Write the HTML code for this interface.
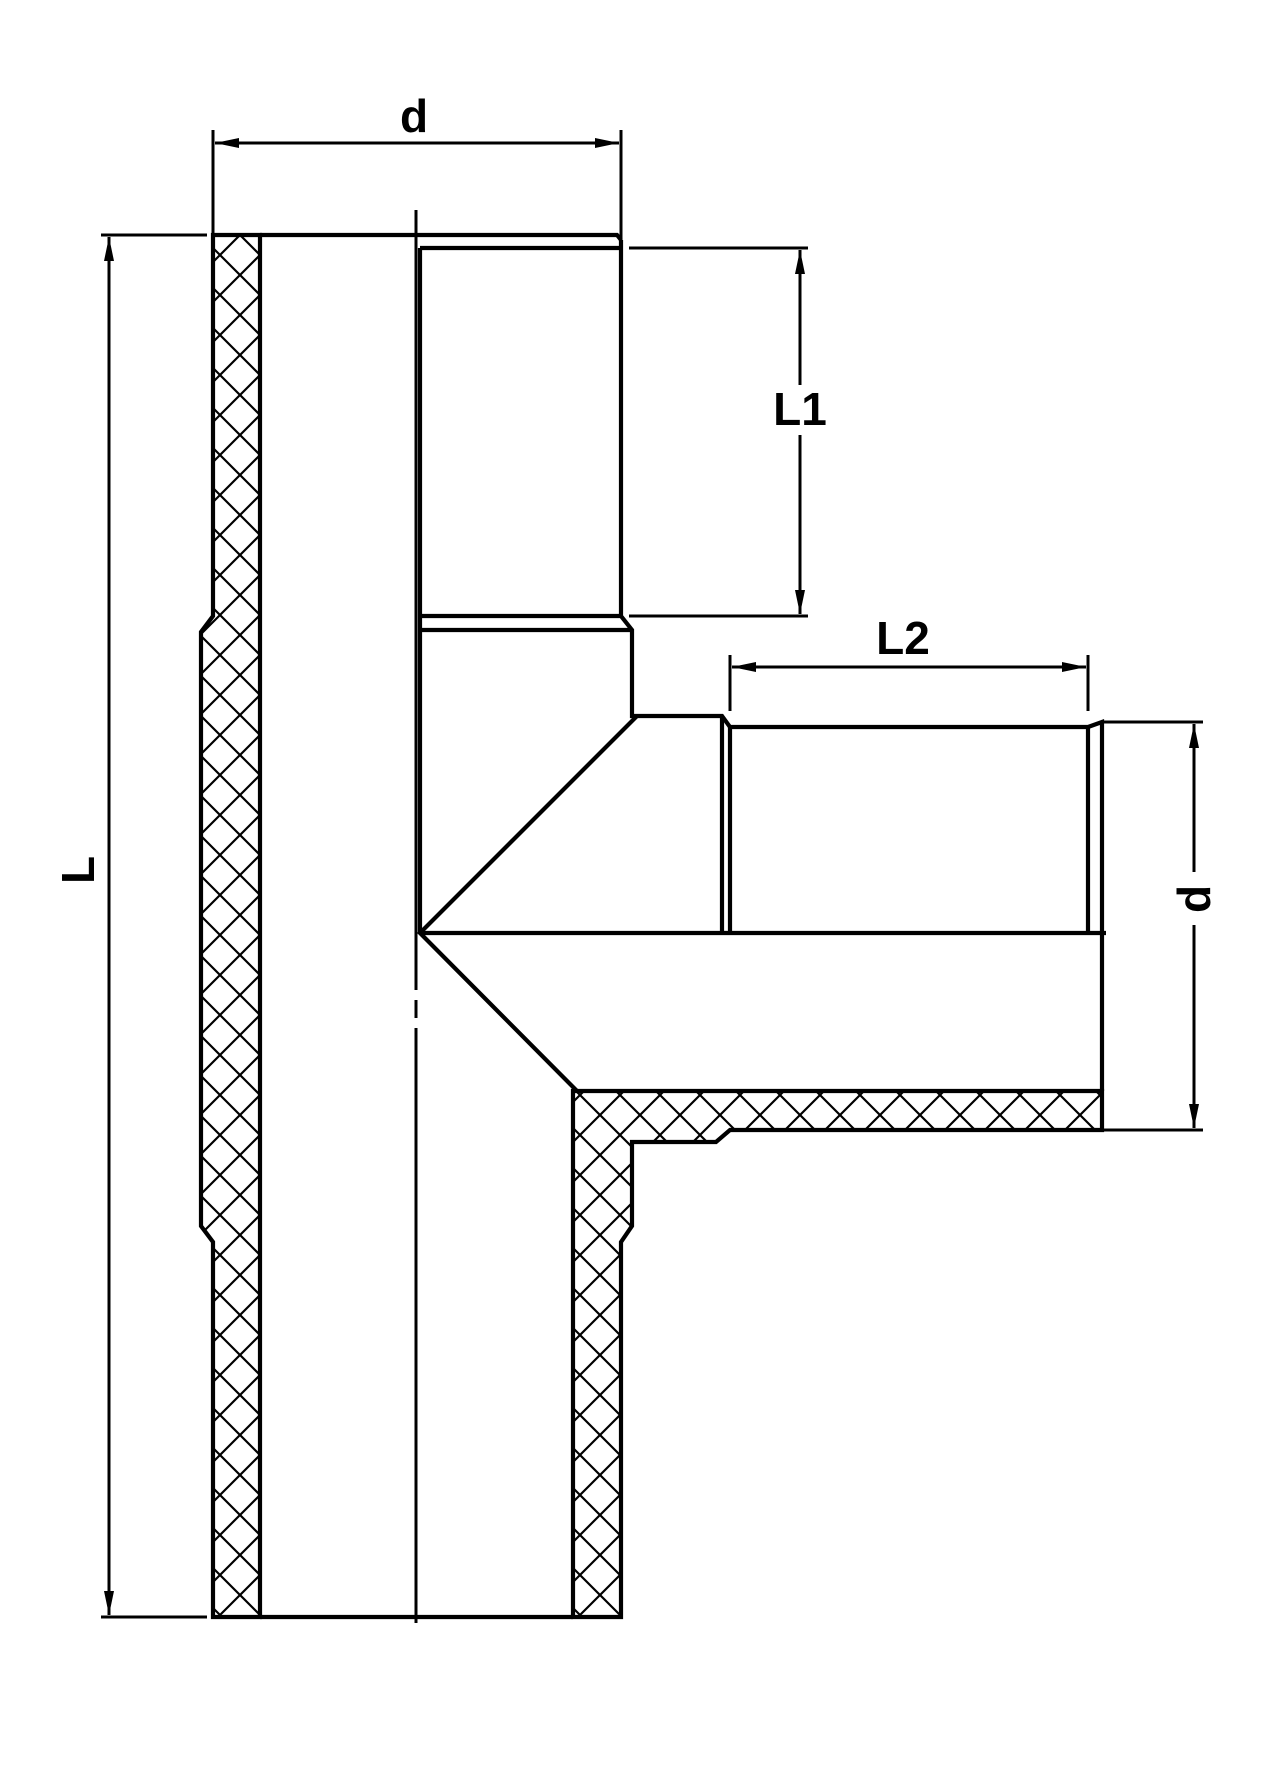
<!DOCTYPE html>
<html><head><style>html,body{margin:0;padding:0;background:#fff}svg{display:block}</style></head><body>
<svg width="1276" height="1767" viewBox="0 0 1276 1767" xmlns="http://www.w3.org/2000/svg">
<defs>
<pattern id="h" patternUnits="userSpaceOnUse" width="40" height="40" x="0" y="235">
<path d="M0 0L40 40M40 0L0 40M-5 35L5 45M35 -5L45 5M-5 5L5 -5M35 45L45 35" stroke="#000" stroke-width="2.2"/>
</pattern>
<marker id="a" viewBox="0 0 24 12" refX="24" refY="6" markerWidth="24" markerHeight="12" markerUnits="userSpaceOnUse" orient="auto-start-reverse"><path d="M0 1L24 6L0 11Z" fill="#000"/></marker>
</defs>
<g fill="none" stroke="#000" stroke-width="4.2" stroke-linejoin="miter">
<path d="M213 235L213 616L201 632L201 1226L213 1242L213 1617L260 1617L260 235Z" fill="url(#h)"/>
<path d="M573 1091L1102 1091L1102 1130L730 1130L716 1142L632 1142L632 1226L621 1242L621 1617L573 1617Z" fill="url(#h)"/>
<path d="M260 235L617 235L621 240"/>
<path d="M420 248L621 248M621 240L621 616L632 630L632 716L722 716L730 727L1088 727L1102 722L1102 1091"/>
<path d="M420 248L420 933"/>
<path d="M420 616L621 616M420 630L632 630"/>
<path d="M637 716L420 933L577 1091"/>
<path d="M420 933L1106 933"/>
<path d="M722 716L722 933M730 727L730 933M1088 727L1088 933"/>
<path d="M260 1617L573 1617"/>
</g>
<path d="M416 210L416 990M416 1000L416 1018M416 1028L416 1623" stroke="#000" stroke-width="3" fill="none"/>
<g stroke="#000" stroke-width="3" fill="none">
<path d="M213 130L213 235M621 130L621 240"/>
<path d="M215 143L619 143" marker-start="url(#a)" marker-end="url(#a)"/>
<path d="M101 235L207 235M101 1617L207 1617"/>
<path d="M109 237L109 1615" marker-start="url(#a)" marker-end="url(#a)"/>
<path d="M629 248L808 248M629 616L808 616"/>
<path d="M800 250L800 385M800 435L800 614"/>
<path d="M800 250L800 280" marker-start="url(#a)"/>
<path d="M800 590L800 614" marker-end="url(#a)"/>
<path d="M730 655L730 711M1088 655L1088 711"/>
<path d="M732 667L1086 667" marker-start="url(#a)" marker-end="url(#a)"/>
<path d="M1102 722L1203 722M1102 1130L1203 1130"/>
<path d="M1194 724L1194 872M1194 925L1194 1128"/>
<path d="M1194 724L1194 750" marker-start="url(#a)"/>
<path d="M1194 1100L1194 1128" marker-end="url(#a)"/>
</g>
<g font-family="Liberation Sans, sans-serif" font-weight="bold" font-size="46" fill="#000" text-anchor="middle">
<text x="414" y="132">d</text>
<text x="800" y="425">L1</text>
<text x="903" y="654">L2</text>
<text transform="translate(94,870) rotate(-90)">L</text>
<text transform="translate(1210,899) rotate(-90)">d</text>
</g>
</svg>
</body></html>
